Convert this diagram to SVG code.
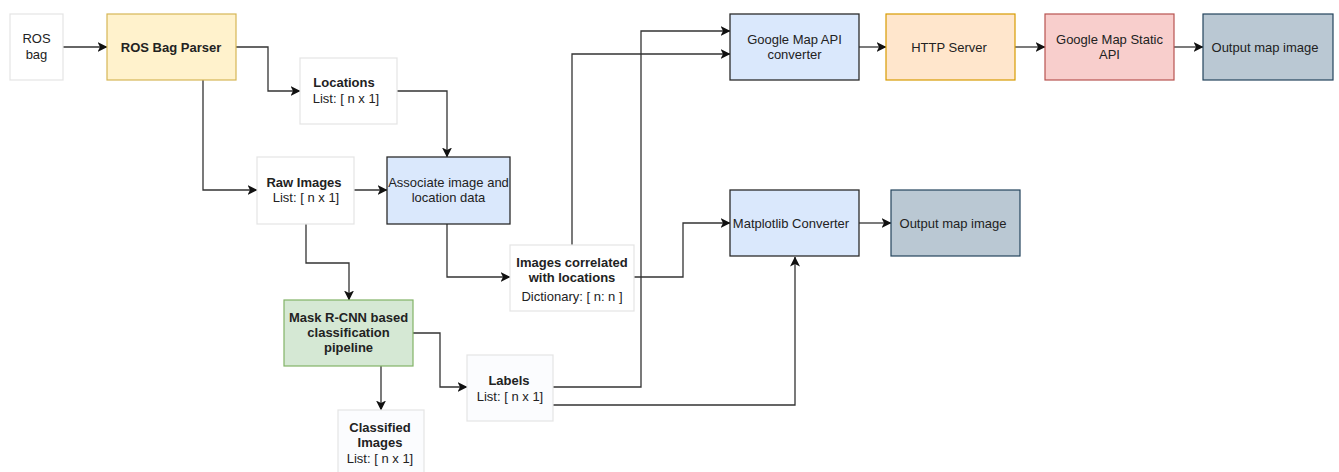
<svg xmlns="http://www.w3.org/2000/svg" width="1339" height="472" viewBox="0 0 1339 472">
  <defs>
    <marker id="arrow" viewBox="0 0 10 10" refX="9.5" refY="5" markerWidth="10" markerHeight="10" markerUnits="userSpaceOnUse" orient="auto">
      <path d="M0,0 L10,5 L0,10 L2.5,5 Z" fill="#111"/>
    </marker>
  </defs>
  <style>
    text { font-family: "Liberation Sans", Arial, sans-serif; font-size: 13px; fill: #222; text-anchor: middle; }
    .b { font-weight: bold; }
    .plain { fill: #ffffff; stroke: #e4e4e4; stroke-width: 1.2; }
    .data { fill: #fbfcfe; stroke: #e4e4e4; stroke-width: 1.2; }
    .yellow { fill: #fff2cc; stroke: #d6b656; stroke-width: 1.2; }
    .blue { fill: #dae8fc; stroke: #2b2b2b; stroke-width: 1.3; }
    .green { fill: #d5e8d4; stroke: #82b366; stroke-width: 1.2; }
    .orange { fill: #ffe6cc; stroke: #d79b00; stroke-width: 1.2; }
    .red { fill: #f8cecc; stroke: #b85450; stroke-width: 1.2; }
    .slate { fill: #bac8d3; stroke: #23445d; stroke-width: 1.2; }
    #connectors path { fill: none; stroke: #333; stroke-width: 1.3; marker-end: url(#arrow); }
  </style>
  <rect width="1339" height="472" fill="#ffffff"/>

  <g id="connectors">
    <path d="M63,47 L107,47"/>
    <path d="M236,47 L268,47 L268,91 L300,91"/>
    <path d="M397,91 L447,91 L447,157"/>
    <path d="M203,80 L203,190 L257,190"/>
    <path d="M354,190 L387,190"/>
    <path d="M306,224 L306,263 L349,263 L349,300"/>
    <path d="M381,366 L381,410"/>
    <path d="M413,333 L440,333 L440,387 L467,387"/>
    <path d="M447,224 L447,277 L510,277"/>
    <path d="M553,387 L641,387 L641,31 L730,31"/>
    <path d="M572,245 L572,54 L730,54"/>
    <path d="M634,277 L683,277 L683,223 L730,223"/>
    <path d="M553,405 L795,405 L795,257"/>
    <path d="M859,47 L886,47"/>
    <path d="M1015,47 L1045,47"/>
    <path d="M1174,47 L1203,47"/>
    <path d="M859,223 L891,223"/>
  </g>

  <g id="ros-bag">
    <rect class="plain" x="10" y="14" width="53" height="66"/>
    <text x="36.5" y="43">ROS</text>
    <text x="36.5" y="59">bag</text>
  </g>

  <g id="ros-bag-parser">
    <rect class="yellow" x="107" y="14" width="129" height="66"/>
    <text class="b" x="171" y="51.5">ROS Bag Parser</text>
  </g>

  <g id="locations">
    <rect class="plain" x="300" y="58" width="97" height="66"/>
    <text class="b" x="344" y="87">Locations</text>
    <text x="346" y="103">List: [ n x 1]</text>
  </g>

  <g id="raw-images">
    <rect class="plain" x="257" y="157" width="97" height="67"/>
    <text class="b" x="304" y="187">Raw Images</text>
    <text x="306" y="202">List: [ n x 1]</text>
  </g>

  <g id="associate">
    <rect class="blue" x="387" y="157" width="123" height="67"/>
    <text x="448.5" y="187">Associate image and</text>
    <text x="448.5" y="202">location data</text>
  </g>

  <g id="images-correlated">
    <rect class="plain" x="510" y="245" width="124" height="66"/>
    <text class="b" x="572" y="267">Images correlated</text>
    <text class="b" x="572" y="282">with locations</text>
    <text x="572" y="301">Dictionary: [ n: n ]</text>
  </g>

  <g id="mask-rcnn">
    <rect class="green" x="284" y="300" width="129" height="66"/>
    <text class="b" x="348.5" y="322">Mask R-CNN based</text>
    <text class="b" x="348.5" y="337">classification</text>
    <text class="b" x="348.5" y="352">pipeline</text>
  </g>

  <g id="labels">
    <rect class="data" x="467" y="355" width="86" height="66"/>
    <text class="b" x="509" y="385">Labels</text>
    <text x="510" y="401">List: [ n x 1]</text>
  </g>

  <g id="classified-images">
    <rect class="data" x="338" y="410" width="86" height="66"/>
    <text class="b" x="380" y="432">Classified</text>
    <text class="b" x="380" y="447">Images</text>
    <text x="380" y="463">List: [ n x 1]</text>
  </g>

  <g id="google-map-api-converter">
    <rect class="blue" x="730" y="14" width="129" height="66"/>
    <text x="794.5" y="44">Google Map API</text>
    <text x="794.5" y="59">converter</text>
  </g>

  <g id="http-server">
    <rect class="orange" x="886" y="14" width="129" height="66"/>
    <text x="949" y="51.5">HTTP Server</text>
  </g>

  <g id="google-map-static-api">
    <rect class="red" x="1045" y="14" width="129" height="66"/>
    <text x="1109.5" y="44">Google Map Static</text>
    <text x="1109.5" y="59">API</text>
  </g>

  <g id="output-map-image-top">
    <rect class="slate" x="1203" y="14" width="130" height="66"/>
    <text x="1265" y="51.5">Output map image</text>
  </g>

  <g id="matplotlib-converter">
    <rect class="blue" x="730" y="190" width="129" height="66"/>
    <text x="791" y="227.5">Matplotlib Converter</text>
  </g>

  <g id="output-map-image-bottom">
    <rect class="slate" x="891" y="190" width="129" height="66"/>
    <text x="953" y="227.5">Output map image</text>
  </g>
</svg>
